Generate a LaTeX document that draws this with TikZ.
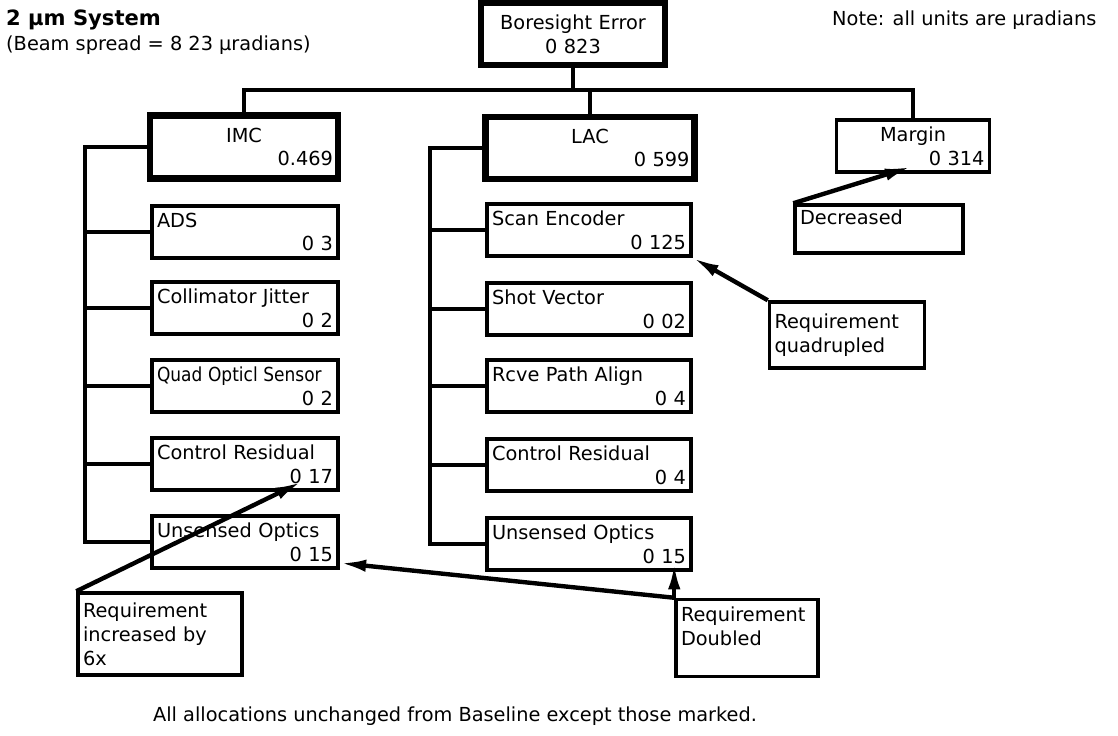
\documentclass[tikz,border=0pt]{standalone}
\usepackage{fontspec}
\usepackage{graphicx}
\setmainfont{DejaVu Sans}
\usetikzlibrary{arrows.meta}
\newcommand{\rval}[1]{\makebox[\linewidth][r]{#1}}

\begin{document}
\begin{tikzpicture}[
  x=0.02cm, y=-0.02cm,
  >={Latex[length=15pt,width=7pt]},
  every node/.style={font=\fontsize{11}{13.6}\selectfont},
  alloc/.style={draw, line width=2pt, minimum height=1.04cm, inner xsep=0.1cm, inner ysep=2pt, align=left},
  imcitem/.style={alloc, text width=3.52cm},
  lacitem/.style={alloc, text width=3.88cm},
  major/.style={alloc, line width=3.5pt, align=center, minimum height=1.24cm},
  notebox/.style={draw, line width=2pt, align=left, inner xsep=0.1cm, inner ysep=2pt},
  treeline/.style={line width=1.8pt},
  noteline/.style={->, line width=2.5pt}
]
\useasboundingbox (0,0) rectangle (1118,735);

% Headings
\node[anchor=west, font={\fontsize{12}{14}\selectfont\bfseries}] (sys) at (0,20) {2 μm System};
\node[anchor=west] (beam) at (0,45) {(Beam spread = 8 23 μradians)};
\node[anchor=west] (units) at (826,20) {Note: all units are μradians};

% Top level
\node[major, text width=3.48cm] (bore) at (573,34) {Boresight Error\\0 823};
\node[major, text width=3.56cm, minimum height=1.26cm] (imc) at (244,147) {IMC\\\rval{0.469}};
\node[major, text width=3.98cm] (lac) at (590,148) {LAC\\\rval{0 599}};
\node[alloc, align=center, text width=2.86cm] (margin) at (913,146) {Margin\\\rval{0 314}};

% IMC allocations
\node[imcitem] (ads) at (245,232) {ADS\\\rval{0 3}};
\node[imcitem] (cj) at (245,308) {Collimator Jitter\\\rval{0 2}};
\node[imcitem] (qos) at (245,386) {\scalebox{0.88}[1]{Quad Opticl Sensor}\\\rval{0 2}};
\node[imcitem] (icr) at (245,464) {Control Residual\\\rval{0 17}};
\node[imcitem] (iuo) at (245,542) {Unsensed Optics\\\rval{0 15}};

% LAC allocations
\node[lacitem] (lse) at (589,230) {Scan Encoder\\\rval{0 125}};
\node[lacitem] (lsv) at (589,309) {Shot Vector\\\rval{0 02}};
\node[lacitem] (lrp) at (589,386) {Rcve Path Align\\\rval{0 4}};
\node[lacitem] (lcr) at (589,465) {Control Residual\\\rval{0 4}};
\node[lacitem] (luo) at (589,544) {Unsensed Optics\\\rval{0 15}};

% Change notes
\node[notebox, text width=3.16cm, minimum height=0.96cm] (decr) at (879,229) {Decreased\\~};
\node[notebox, text width=2.9cm, minimum height=1.32cm] (quad) at (847,335) {Requirement\\quadrupled};
\node[notebox, text width=3.08cm, minimum height=1.64cm] (incr) at (160,634) {Requirement\\increased by\\6x};
\node[notebox, text width=2.64cm, minimum height=1.54cm] (dbl) at (747,638) {Requirement\\Doubled\\~};

\node (foot) at (455,716) {All allocations unchanged from Baseline except those marked.};

% Tree
\coordinate (bus) at (573,90);
\coordinate (imcsp) at (85,147);
\coordinate (lacsp) at (430,148);
\draw[treeline] (bore.south) -- (bus);
\draw[treeline] (imc.north) |- (bus) -| (margin.north);
\draw[treeline] (lac.north) -- (lac.north |- bus);
\draw[treeline] (imc.west) -- (imcsp) |- (iuo.west);
\foreach \n in {ads,cj,qos,icr}
  \draw[treeline] (\n.west) -- (\n.west -| imcsp);
\draw[treeline] (lac.west) -- (lacsp) |- (luo.west);
\foreach \n in {lse,lsv,lrp,lcr}
  \draw[treeline] (\n.west) -- (\n.west -| lacsp);

% Arrows to changed values
\draw[noteline] (incr.north west) -- ([shift={(-38,-10)}]icr.south east);
\draw[noteline] (dbl.north west) -- ([shift={(0,21)}]iuo.east);
\draw[noteline] (dbl.north west) -- ([yshift=5pt]dbl.north west |- luo.south);
\draw[noteline] (quad.north west) -- (lse.south east);
\draw[noteline] (decr.north west) -- ([shift={(-80,-7)}]margin.south east);

\end{tikzpicture}
\end{document}
